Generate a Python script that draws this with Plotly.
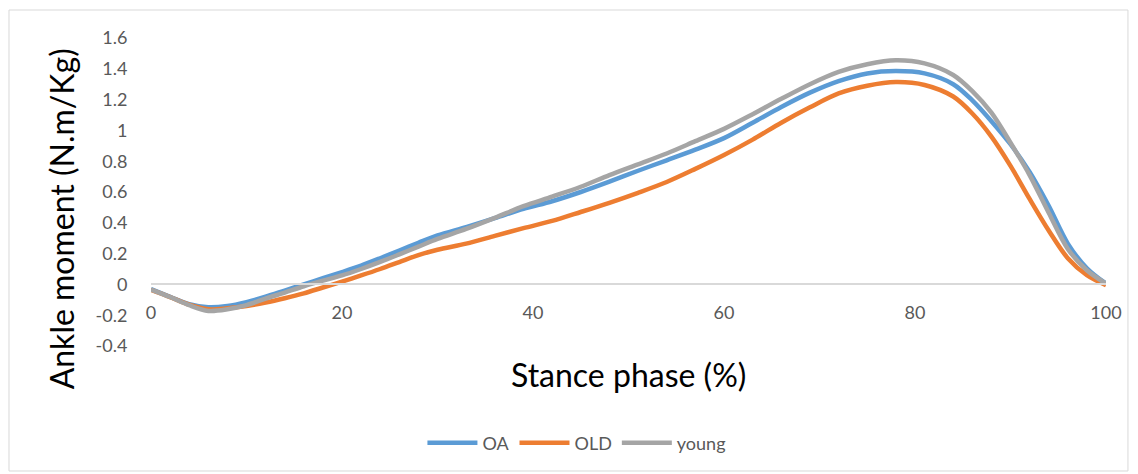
import plotly.graph_objects as go

# Stance phase (%)
stance = [0, 2, 4, 6, 8, 10, 12, 14, 16, 18, 20, 22, 24, 26, 28, 30, 33, 36, 39, 42, 45,
          48, 51, 54, 57, 60, 63, 66, 69, 72, 75, 78, 81, 84, 86, 88, 90, 92, 94, 96, 98, 100]

oa = [-0.030, -0.080, -0.128, -0.148, -0.140, -0.115, -0.080, -0.040, 0.000, 0.040, 0.080,
      0.122, 0.170, 0.220, 0.270, 0.318, 0.372, 0.430, 0.490, 0.540, 0.600,
      0.667, 0.738, 0.806, 0.875, 0.950, 1.050, 1.152, 1.245, 1.320, 1.370, 1.385, 1.370,
      1.300, 1.195, 1.060, 0.910, 0.730, 0.510, 0.265, 0.105, 0.005]

old = [-0.035, -0.082, -0.132, -0.162, -0.155, -0.140, -0.118, -0.090, -0.058, -0.020, 0.018,
       0.058, 0.100, 0.145, 0.190, 0.225, 0.265, 0.315, 0.365, 0.412, 0.470,
       0.530, 0.595, 0.665, 0.750, 0.840, 0.940, 1.050, 1.150, 1.240, 1.290, 1.314, 1.295,
       1.220, 1.110, 0.960, 0.770, 0.555, 0.350, 0.170, 0.060, -0.005]

young = [-0.033, -0.082, -0.135, -0.172, -0.162, -0.135, -0.092, -0.053, -0.012, 0.024, 0.058,
         0.100, 0.146, 0.195, 0.245, 0.295, 0.360, 0.432, 0.508, 0.570, 0.634,
         0.710, 0.780, 0.850, 0.930, 1.010, 1.105, 1.205, 1.300, 1.380, 1.430, 1.455, 1.435,
         1.360, 1.255, 1.115, 0.920, 0.710, 0.465, 0.230, 0.092, 0.005]

series_names = ["OA", "OLD", "young"]
series_colors = ["#5B9BD5", "#ED7D31", "#A5A5A5"]

y_tickvals = [-0.4, -0.2, 0, 0.2, 0.4, 0.6, 0.8, 1.0, 1.2, 1.4, 1.6]
y_ticktext = ["-0.4", "-0.2", "0", "0.2", "0.4", "0.6", "0.8", "1", "1.2", "1.4", "1.6"]
x_tickvals = [0, 20, 40, 60, 80, 100]
x_ticktext = ["0", "20", "40", "60", "80", "100"]

FONT = "Lato"
GRAY_TXT = "#595959"

fig = go.Figure()
for name, vals, col in zip(series_names, [oa, old, young], series_colors):
    fig.add_trace(go.Scatter(
        x=stance, y=vals, name=name, mode="lines",
        line=dict(color=col, width=4.5, shape="spline", smoothing=0.9),
    ))

fig.update_layout(
    width=1130, height=466,
    margin=dict(l=143, r=32, t=30, b=128),
    paper_bgcolor="white", plot_bgcolor="white",
    font=dict(family=FONT, color=GRAY_TXT),
    showlegend=True,
    legend=dict(orientation="h", x=0.446, xanchor="center", y=-0.315, yanchor="middle",
                font=dict(size=18, color=GRAY_TXT, family=FONT),
                bgcolor="rgba(0,0,0,0)", itemwidth=50),
    xaxis=dict(range=[0, 100], tickvals=x_tickvals, ticktext=x_ticktext,
               anchor="free", position=0.2,
               showline=True, linecolor="#d9d9d9", linewidth=1.5,
               showgrid=False, zeroline=False,
               ticks="outside", ticklen=12, tickcolor="rgba(0,0,0,0)",
               tickfont=dict(size=18, color=GRAY_TXT, family=FONT)),
    yaxis=dict(range=[-0.4, 1.6], tickvals=y_tickvals, ticktext=y_ticktext,
               showline=False, showgrid=False, zeroline=False,
               ticks="outside", ticklen=19, tickcolor="rgba(0,0,0,0)",
               tickfont=dict(size=18, color=GRAY_TXT, family=FONT)),
    annotations=[
        dict(text="Ankle moment (N.m/Kg)", xref="paper", yref="paper",
             x=-0.094, y=0.412, textangle=-90, showarrow=False,
             xanchor="center", yanchor="middle",
             font=dict(size=32, color="black", family=FONT)),
        dict(text="Stance phase (%)", xref="paper", yref="paper",
             x=0.5, y=-0.094, showarrow=False,
             xanchor="center", yanchor="middle",
             font=dict(size=32, color="black", family=FONT)),
    ],
    shapes=[
        dict(type="rect", xref="paper", yref="paper",
             x0=-0.1487, x1=1.0230, y0=-0.4058, y1=1.0909,
             line=dict(color="#d9d9d9", width=1), fillcolor="rgba(0,0,0,0)",
             layer="below"),
    ],
)

fig.write_html("out.html")
